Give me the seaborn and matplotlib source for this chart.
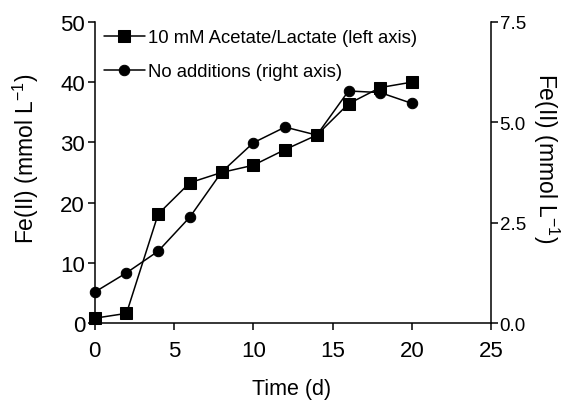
import matplotlib
matplotlib.use("Agg")
import matplotlib.pyplot as plt
import seaborn as sns
import pandas as pd

# data
days = [0, 2, 4, 6, 8, 10, 12, 14, 16, 18, 20]
fe_amended = [0.8, 1.6, 18.1, 23.3, 25.0, 26.2, 28.8, 31.2, 36.4, 39.1, 40.0]
fe_unamended = [0.77, 1.25, 1.79, 2.64, 3.76, 4.49, 4.88, 4.68, 5.78, 5.74, 5.47]

label_amended = "10 mM Acetate/Lactate (left axis)"
label_unamended = "No additions (right axis)"
ylabel = "Fe(II) (mmol L$^{\\mathregular{-1}}$)"

sns.set_theme(style="ticks")
plt.rcParams['font.family'] = ['Liberation Sans', 'DejaVu Sans']
plt.rcParams['text.color'] = 'black'
plt.rcParams['axes.labelcolor'] = 'black'
plt.rcParams['xtick.color'] = 'black'
plt.rcParams['ytick.color'] = 'black'

df_a = pd.DataFrame({"day": days, "fe": fe_amended})
df_u = pd.DataFrame({"day": days, "fe": fe_unamended})

fig = plt.figure(figsize=(5.64, 4.02), dpi=100)
ax = fig.add_axes([0.168, 0.194, 0.703, 0.749])
ax2 = ax.twinx()

sns.lineplot(data=df_a, x="day", y="fe", ax=ax, color="black", marker="s",
             markersize=8, linewidth=1.1, markeredgecolor="black",
             label=label_amended, clip_on=False, legend=False)
sns.lineplot(data=df_u, x="day", y="fe", ax=ax2, color="black", marker="o",
             markersize=7.5, linewidth=1.1, markeredgecolor="black",
             label=label_unamended, clip_on=False, legend=False)

ax.set_xlim(0, 25)
ax.set_ylim(0, 50)
ax2.set_ylim(0, 7.5)
ax.set_xticks([0, 5, 10, 15, 20, 25])
ax.set_yticks([0, 10, 20, 30, 40, 50])
ax2.set_yticks([0, 2.5, 5.0, 7.5])
ax2.set_yticklabels(["0.0", "2.5", "5.0", "7.5"])

for a in (ax, ax2):
    a.spines['top'].set_visible(False)
    for s in a.spines.values():
        s.set_linewidth(1.1)
        s.set_color("black")
ax.spines['right'].set_visible(False)
ax2.spines['left'].set_visible(False)
ax2.spines['bottom'].set_visible(False)

ax.tick_params(axis="x", labelsize=16, length=5, width=1.1, pad=7,
               direction="out")
ax.tick_params(axis="y", labelsize=16, length=5, width=1.1, pad=2,
               direction="out")
ax2.tick_params(axis="y", labelsize=13.5, length=5, width=1.1, pad=1,
                direction="out")

ax.set_xlabel("Time (d)", fontsize=15.5)
ax.xaxis.set_label_coords(0.497, -0.182)
ax.set_ylabel(ylabel, fontsize=16.5)
ax.yaxis.set_label_coords(-0.136, 0.548)
ax2.set_ylabel(ylabel, fontsize=16.5, rotation=270, va="bottom")
ax2.yaxis.set_label_coords(1.101, 0.55)

h1, l1 = ax.get_legend_handles_labels()
h2, l2 = ax2.get_legend_handles_labels()
ax.legend(h1 + h2, l1 + l2, loc="upper left", frameon=False, fontsize=13.3,
          handlelength=2.2, handletextpad=0.2, borderaxespad=0.0,
          borderpad=0.0, labelspacing=0.9, bbox_to_anchor=(0.023, 0.975))

fig.savefig("out.png", dpi=100)
